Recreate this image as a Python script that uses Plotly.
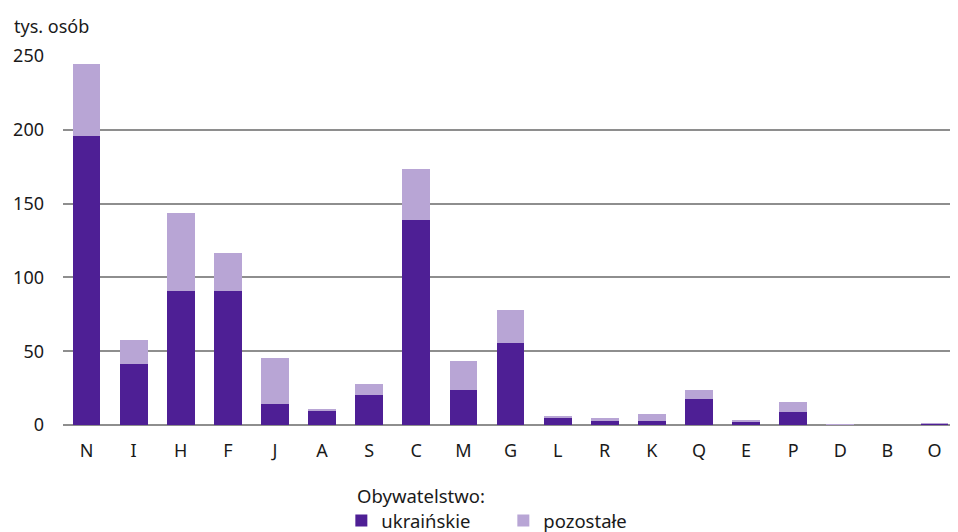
import plotly.graph_objects as go

categories = ["N", "I", "H", "F", "J", "A", "S", "C", "M", "G", "L", "R", "K", "Q", "E", "P", "D", "B", "O"]
ukrainskie = [195.5, 41.0, 91.0, 91.0, 14.0, 9.3, 20.5, 139.0, 23.8, 55.8, 4.7, 2.7, 2.7, 17.8, 2.7, 9.0, 0.3, 0.0, 0.7]
totals = [244.5, 57.3, 143.7, 116.5, 45.5, 11.0, 27.5, 173.5, 43.5, 77.8, 6.2, 4.7, 7.4, 23.6, 3.2, 15.5, 0.5, 0.0, 1.0]
pozostale = [round(t - u, 2) for t, u in zip(totals, ukrainskie)]

y_ticks = [0, 50, 100, 150, 200, 250]

FONT = "Noto Sans"
DARK = "#4e1f95"
LIGHT = "#b8a5d5"

fig = go.Figure()
fig.add_trace(go.Bar(x=categories, y=ukrainskie, name="ukraińskie", marker=dict(color=DARK, line=dict(width=0))))
fig.add_trace(go.Bar(x=categories, y=pozostale, name="pozostałe", marker=dict(color=LIGHT, line=dict(width=0))))

fig.update_layout(
    width=950, height=524,
    barmode="stack",
    bargap=0.41,
    plot_bgcolor="white", paper_bgcolor="white",
    margin=dict(l=55, r=0, t=48, b=107),
    font=dict(family=FONT, size=18, color="#1a1a1a"),
    showlegend=True,
    legend=dict(
        orientation="h",
        xref="paper", x=0.311, xanchor="left",
        yref="container", y=0.021, yanchor="middle",
        font=dict(size=18.5),
        itemwidth=30,
        entrywidth=117,
        traceorder="normal",
    ),
    annotations=[
        dict(text="tys. osób", xref="paper", yref="paper", x=-0.057, y=1.0, yshift=30,
             xanchor="left", yanchor="middle", showarrow=False, font=dict(size=18)),
        dict(text="Obywatelstwo:", xref="paper", yref="paper", x=0.326, y=-0.19,
             xanchor="left", yanchor="middle", showarrow=False, font=dict(size=18.5)),
    ],
)
fig.update_xaxes(showgrid=False, showline=False, zeroline=False, tickfont=dict(size=18),
                 range=[-0.5, 18.5], ticklabelstandoff=13)
fig.update_yaxes(range=[0, 250], tickvals=y_ticks, showgrid=True, gridcolor="#8e8e8e", gridwidth=1.5,
                 zeroline=True, zerolinecolor="#8e8e8e", zerolinewidth=1.5, showline=False,
                 ticks="", ticklabelstandoff=18, tickfont=dict(size=18))

fig.write_html("out.html")
